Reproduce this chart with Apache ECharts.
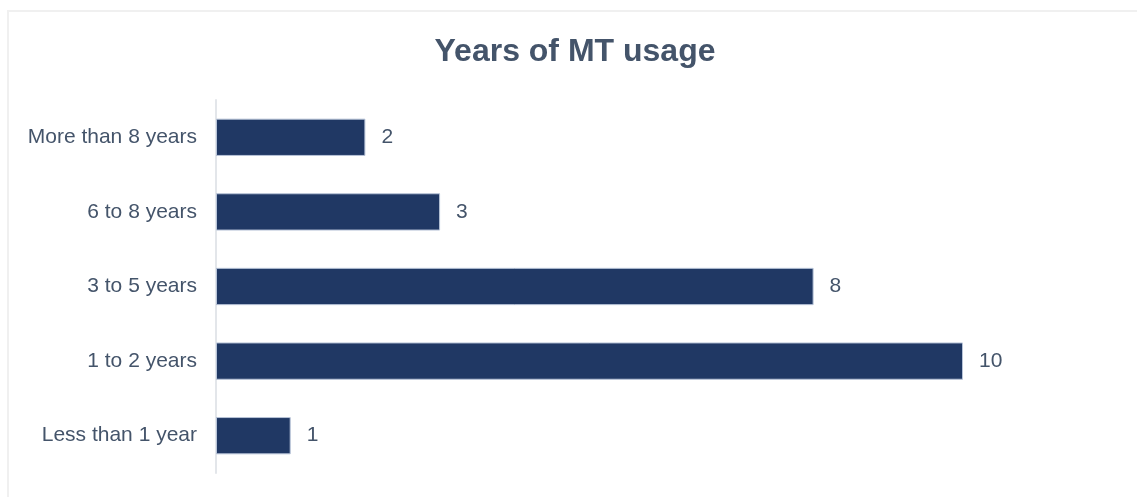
<!DOCTYPE html>
<html>
<head>
<meta charset="utf-8">
<script src="https://cdn.jsdelivr.net/npm/echarts@6/dist/echarts.min.js"></script>
<style>
  html, body { margin: 0; padding: 0; background: #fff; }
  #frame { position: absolute; left: 7px; top: 10px; width: 1140px; height: 500px;
           border: 2px solid #f0f0f0; box-sizing: border-box; }
  #chart { position: absolute; left: 0; top: 0; width: 1137px; height: 497px; }
</style>
</head>
<body>
<div id="frame"></div>
<div id="chart"></div>
<script>
// Survey answers: how long respondents have used machine translation
const categories = ['Less than 1 year', '1 to 2 years', '3 to 5 years', '6 to 8 years', 'More than 8 years'];
const counts = [1, 10, 8, 3, 2];

const chart = echarts.init(document.getElementById('chart'));
chart.setOption({
  animation: false,
  textStyle: { fontFamily: 'Liberation Sans, Arial, sans-serif' },
  title: {
    text: 'Years of MT usage',
    left: 570,
    top: 31,
    textAlign: 'center',
    textStyle: { fontSize: 32, fontWeight: 'bold', color: '#44546a', fontFamily: 'Liberation Sans, Arial, sans-serif' }
  },
  grid: { left: 216, right: 174, top: 100, bottom: 24, containLabel: false },
  xAxis: {
    type: 'value',
    min: 0,
    max: 10,
    show: false
  },
  yAxis: {
    type: 'category',
    data: categories,
    axisLine: { show: true, lineStyle: { color: '#e3e6ea', width: 2 } },
    axisTick: { show: false },
    axisLabel: { color: '#44546a', fontSize: 21, margin: 19, padding: [3, 0, 0, 0] }
  },
  series: [{
    type: 'bar',
    data: counts,
    barWidth: '50%',
    itemStyle: { color: '#203864', borderColor: '#b8c4d8', borderWidth: 1 },
    label: {
      show: true,
      position: 'right',
      distance: 16,
      color: '#44546a',
      fontSize: 21,
      padding: [3, 0, 0, 0]
    }
  }]
});
</script>
</body>
</html>
